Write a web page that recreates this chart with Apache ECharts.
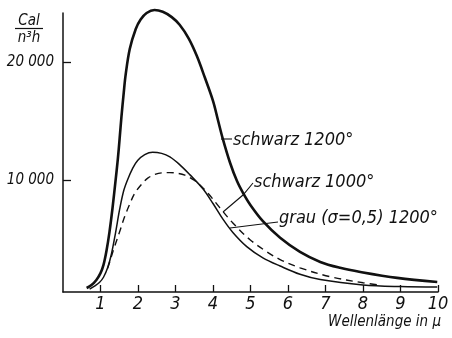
<!DOCTYPE html>
<html>
<head>
<meta charset="utf-8">
<script src="https://cdn.jsdelivr.net/npm/echarts@6/dist/echarts.min.js"></script>
<style>
  html, body { margin: 0; padding: 0; background: #fff; }
  #chartModel { width: 452px; height: 338px; }
</style>
</head>
<body>
<div id="chartModel"></div>
<script>
// schwarz 1200° (dicke Kurve)
const lambda1200 = [0.63, 0.76, 0.89, 1.0, 1.08, 1.16, 1.24, 1.32, 1.4, 1.46, 1.51, 1.56, 1.62, 1.67, 1.78, 1.94, 2.07, 2.23, 2.44, 2.66, 2.9, 3.11, 3.35, 3.57, 3.78, 4.0, 4.13, 4.26, 4.45, 4.64, 4.8, 4.98, 5.33, 5.79, 6.32, 6.86, 7.39, 7.93, 8.91, 9.98];
const e1200 = [840, 1090, 1520, 2100, 2800, 4000, 5600, 7600, 9900, 11700, 13500, 15400, 17400, 18900, 21100, 22800, 23600, 24150, 24400, 24250, 23800, 23150, 22000, 20500, 18700, 16700, 15100, 13500, 11500, 9900, 8900, 7950, 6500, 5100, 3900, 3050, 2550, 2200, 1700, 1350];

// schwarz 1000°
const lambda1000 = [0.71, 0.84, 0.97, 1.08, 1.19, 1.29, 1.4, 1.51, 1.62, 1.72, 1.86, 1.99, 2.18, 2.39, 2.63, 2.85, 3.11, 3.38, 3.73, 4.0, 4.26, 4.53, 4.9, 5.33, 5.79, 6.32, 6.86, 8.0, 9.0, 9.98];
const e1000 = [750, 1000, 1300, 1750, 2550, 3700, 5500, 7500, 9100, 10000, 11000, 11650, 12150, 12350, 12250, 11950, 11300, 10450, 9250, 8000, 6700, 5550, 4350, 3400, 2700, 2000, 1550, 1100, 960, 920];

// grau (σ = 0,5) 1200°
const lambdaGrau = [1.19, 1.29, 1.37, 1.51, 1.64, 1.78, 1.91, 2.1, 2.26, 2.44, 2.63, 2.85, 3.06, 3.25, 3.51, 3.83, 4.18, 4.53, 4.98, 5.44, 5.79, 6.32, 7.12, 8.0, 8.46];
const eGrau = [2500, 3500, 4300, 5600, 6850, 7950, 8850, 9650, 10150, 10450, 10600, 10620, 10560, 10400, 9950, 9000, 7650, 6350, 4950, 3900, 3250, 2550, 1800, 1280, 1080];

const xTicks = [1, 2, 3, 4, 5, 6, 7, 8, 9, 10];
const yTicks = [10000, 20000];

const pairs = (xs, ys) => xs.map((x, i) => [x, ys[i]]);

const font = "'DejaVu Sans Condensed', 'DejaVu Sans', sans-serif";
const ink = '#111';

const myChart = echarts.init(document.getElementById('chartModel'));
const chartOption = {
  backgroundColor: '#fff',
  animation: false,
  grid: {
    left: 63,
    right: 14,
    top: 13,
    bottom: 46
  },
  xAxis: {
    type: 'value',
    min: 0,
    max: 10,
    interval: 1,
    splitLine: { show: false },
    axisLine: { lineStyle: { color: ink, width: 1.5 } },
    axisTick: {
      inside: true,
      length: 7,
      customValues: xTicks,
      lineStyle: { color: ink, width: 1.3 }
    },
    axisLabel: {
      customValues: xTicks,
      margin: 3,
      color: ink,
      fontFamily: font,
      fontStyle: 'italic',
      fontSize: 18
    }
  },
  yAxis: {
    type: 'value',
    min: 500,
    max: 24150,
    splitLine: { show: false },
    axisLine: { show: true, lineStyle: { color: ink, width: 1.5 } },
    axisTick: {
      inside: true,
      length: 8,
      customValues: yTicks,
      lineStyle: { color: ink, width: 1.3 }
    },
    axisLabel: {
      customValues: yTicks,
      margin: 9,
      color: ink,
      fontFamily: font,
      fontStyle: 'italic',
      fontSize: 15,
      formatter: v => String(v).replace(/(\d)(?=(\d{3})+$)/, '$1 ')
    }
  },
  series: [
    {
      name: 'schwarz 1200°',
      type: 'line',
      data: pairs(lambda1200, e1200),
      smooth: 0.35,
      clip: false,
      showSymbol: false,
      lineStyle: { color: ink, width: 2.6 }
    },
    {
      name: 'schwarz 1000°',
      type: 'line',
      data: pairs(lambda1000, e1000),
      smooth: 0.35,
      showSymbol: false,
      lineStyle: { color: ink, width: 1.5 }
    },
    {
      name: 'grau (σ=0,5) 1200°',
      type: 'line',
      data: pairs(lambdaGrau, eGrau),
      smooth: 0.35,
      showSymbol: false,
      lineStyle: { color: ink, width: 1.4, type: [7, 5] }
    }
  ],
  graphic: [
    // Einheit der Ordinate
    { type: 'text', x: 29, y: 21, style: { text: 'Cal', font: 'italic 15px ' + font, fill: ink, align: 'center', verticalAlign: 'middle' } },
    { type: 'line', shape: { x1: 15, y1: 28.5, x2: 43, y2: 28.5 }, style: { stroke: ink, lineWidth: 1.2 } },
    { type: 'text', x: 29, y: 38, style: { text: 'n³h', font: 'italic 15px ' + font, fill: ink, align: 'center', verticalAlign: 'middle' } },
    // Abszisse
    { type: 'text', x: 441, y: 322, style: { text: 'Wellenlänge in μ', font: 'italic 15px ' + font, fill: ink, align: 'right', verticalAlign: 'middle' } },
    // Beschriftungen
    { type: 'line', shape: { x1: 221, y1: 139, x2: 232, y2: 139 }, style: { stroke: ink, lineWidth: 1.1 } },
    { type: 'text', x: 233, y: 140, style: { text: 'schwarz 1200°', font: 'italic 18px ' + font, fill: ink, verticalAlign: 'middle' } },
    { type: 'polyline', shape: { points: [[253, 183], [243, 195], [223, 212]] }, style: { stroke: ink, lineWidth: 1.1, fill: null } },
    { type: 'text', x: 254, y: 182, style: { text: 'schwarz 1000°', font: 'italic 18px ' + font, fill: ink, verticalAlign: 'middle' } },
    { type: 'line', shape: { x1: 278, y1: 222, x2: 230, y2: 228 }, style: { stroke: ink, lineWidth: 1.1 } },
    { type: 'text', x: 279, y: 218, style: { text: 'grau (σ=0,5) 1200°', font: 'italic 18px ' + font, fill: ink, verticalAlign: 'middle' } }
  ]
};
myChart.setOption(chartOption);
</script>
</body>
</html>
